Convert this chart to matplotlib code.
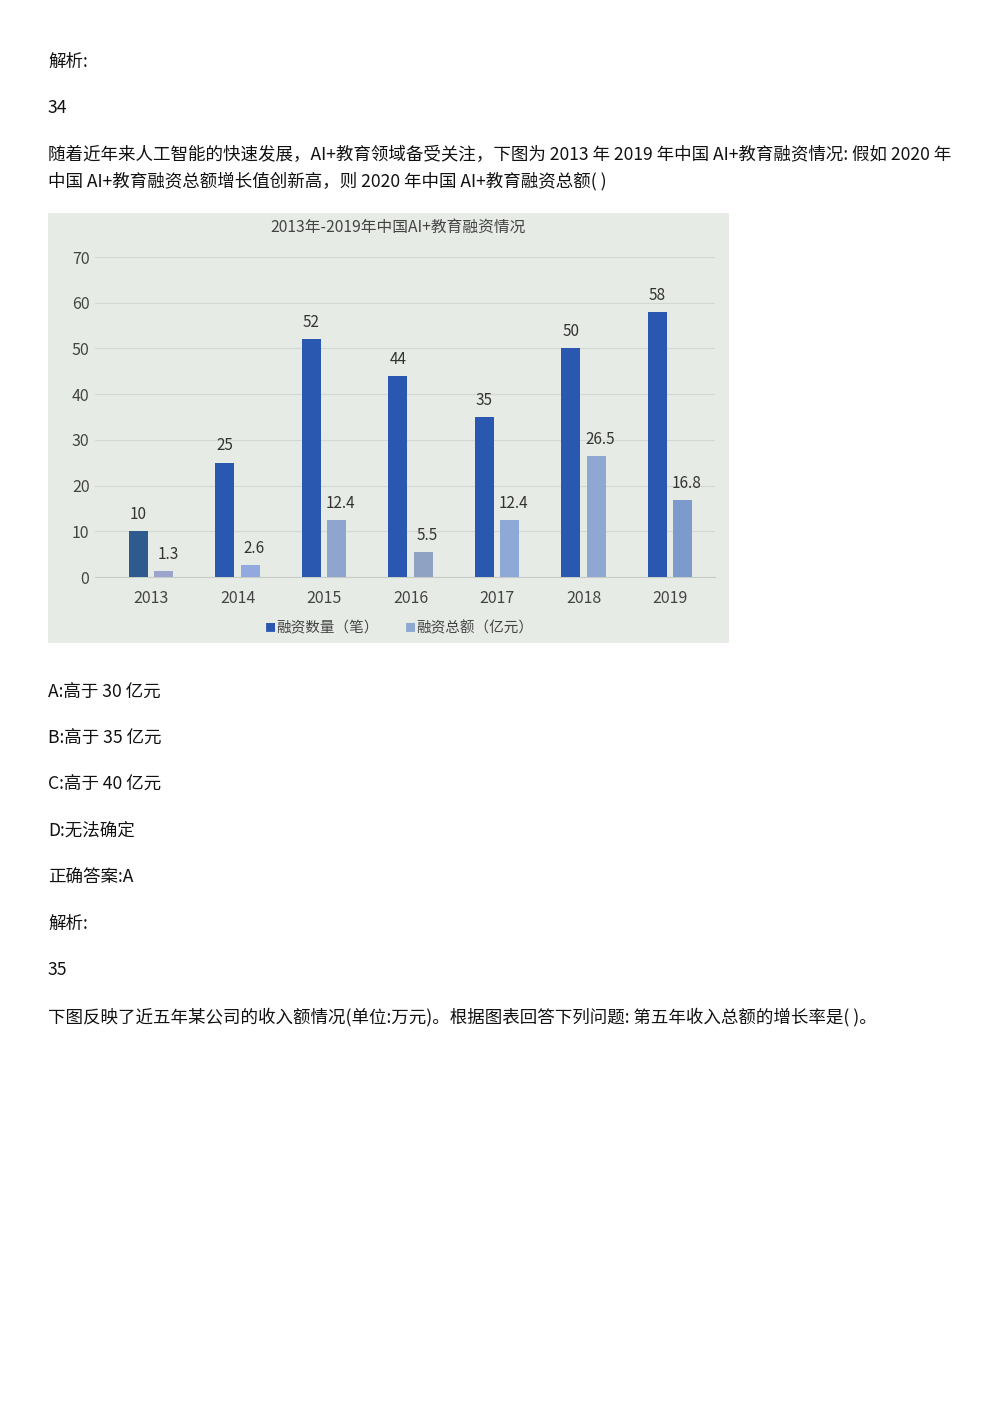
import numpy as np
import matplotlib
matplotlib.use("Agg")
import matplotlib.pyplot as plt
from matplotlib.patches import Rectangle

plt.rcParams['font.family'] = ['Noto Sans CJK SC', 'DejaVu Sans']

years = ["2013", "2014", "2015", "2016", "2017", "2018", "2019"]
deal_count = [10, 25, 52, 44, 35, 50, 58]
deal_amount = [1.3, 2.6, 12.4, 5.5, 12.4, 26.5, 16.8]
count_labels = ["10", "25", "52", "44", "35", "50", "58"]
amount_labels = ["1.3", "2.6", "12.4", "5.5", "12.4", "26.5", "16.8"]
yticks = [0, 10, 20, 30, 40, 50, 60, 70]

chart_title = "2013年-2019年中国AI+教育融资情况"
legend_names = ["融资数量（笔）", "融资总额（亿元）"]

text_top = [
    (62, "解析:"),
    (108, "34"),
    (155, "随着近年来人工智能的快速发展，AI+教育领域备受关注，下图为 2013 年 2019 年中国 AI+教育融资情况: 假如 2020 年"),
    (181, "中国 AI+教育融资总额增长值创新高，则 2020 年中国 AI+教育融资总额( )"),
]
text_bottom = [
    (693, "A:高于 30 亿元"),
    (739, "B:高于 35 亿元"),
    (785, "C:高于 40 亿元"),
    (831, "D:无法确定"),
    (878, "正确答案:A"),
    (924, "解析:"),
    (970, "35"),
    (1017, "下图反映了近五年某公司的收入额情况(单位:万元)。根据图表回答下列问题: 第五年收入总额的增长率是( )。"),
]

W, H = 1000, 1414
fig = plt.figure(figsize=(W / 100, H / 100), dpi=100)
fig.patch.set_facecolor("white")

def fy(py):
    return 1 - py / H

for py, s in text_top + text_bottom:
    fig.text(48 / W, fy(py), s, fontsize=12.6, va="center", ha="left", color="#111111")

# photo background of the chart
fig.patches.append(Rectangle((48 / W, fy(643)), (729 - 48) / W, (643 - 213) / H,
                             transform=fig.transFigure, facecolor="#e7ebe5",
                             edgecolor="none", zorder=-1))

ax = fig.add_axes([95 / W, fy(577), 620 / W, (577 - 257) / H])
ax.set_facecolor("none")
x = np.arange(len(years))
bw = 0.22
off = 0.145
dark = ["#2e5a8e"] + ["#2a57b0"] * 6
light = ["#9aa4cc", "#92a9e0", "#8ea6cf", "#8fa2c4", "#8ea9d6", "#8ea8d2", "#7c9acb"]
ax.bar(x - off, deal_count, bw, color=dark, zorder=3)
ax.bar(x + off, deal_amount, bw, color=light, zorder=3)

for i in range(len(years)):
    ax.annotate(count_labels[i], (x[i] - off, deal_count[i]), xytext=(0, 6),
                textcoords="offset points", ha="center", va="bottom",
                fontsize=11, color="#333333")
    ax.annotate(amount_labels[i], (x[i] + off + 0.05, deal_amount[i]), xytext=(0, 6),
                textcoords="offset points", ha="center", va="bottom",
                fontsize=11, color="#333333")

ax.set_xlim(-0.647, 6.52)
ax.set_ylim(0, 70)
ax.set_yticks(yticks)
ax.set_yticklabels([str(v) for v in yticks], fontsize=11.5, color="#444444")
ax.set_xticks(x)
ax.set_xticklabels(years, fontsize=11.5, color="#444444")
ax.tick_params(axis="y", length=0, pad=4)
ax.tick_params(axis="x", length=0, pad=9)
ax.grid(axis="y", color="#d4d8d2", linewidth=0.8, zorder=0)
for s in ["top", "right", "left"]:
    ax.spines[s].set_visible(False)
ax.spines["bottom"].set_color("#c8ccc6")

fig.text(398 / W, fy(227), chart_title, fontsize=11.3, ha="center", va="center", color="#444444")

# legend row
fig.text(270 / W, fy(628), "■", fontsize=8, ha="center", va="center", color=dark[1])
fig.text(276 / W, fy(628), legend_names[0], fontsize=10.5, ha="left", va="center", color="#444444")
fig.text(410 / W, fy(628), "■", fontsize=8, ha="center", va="center", color=light[5])
fig.text(416 / W, fy(628), legend_names[1], fontsize=10.5, ha="left", va="center", color="#444444")

fig.savefig("out.png", dpi=100)
